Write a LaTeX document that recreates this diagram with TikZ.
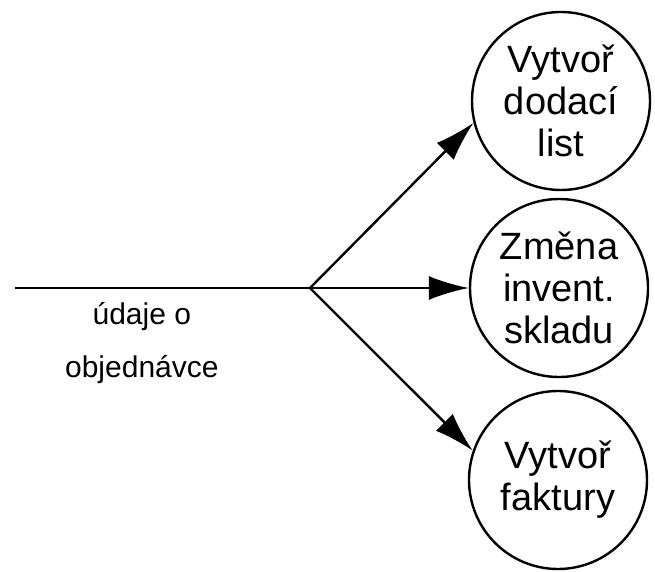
\documentclass[tikz,border=0pt]{standalone}
\usepackage{fontspec}
\setmainfont{Liberation Sans}
\usetikzlibrary{arrows.meta}

\begin{document}
\begin{tikzpicture}[x=1pt, y=1pt, line width=2.4pt,
    proces/.style={circle, draw, minimum size=178pt, inner sep=0pt, align=center,
                   font=\fontsize{38}{42}\selectfont},
    tok/.style={-{Latex[length=40pt,width=24pt]}}]
    \useasboundingbox (0,0) rectangle (655,-572); % okraje
    \coordinate (vstup) at (15,-288); % zacatek toku
    \coordinate (uzel) at (310,-288); % rozvetveni

    \node[proces] (dodaci) at (561,-101) {Vytvoř\\dodací\\list};
    \node[proces] (sklad) at (559,-288) {Změna\\invent.\\skladu};
    \node[proces] (faktura) at (558,-480) {Vytvoř\\faktury};

    \draw (vstup) -- (uzel) node[pos=0.43, below=10pt, align=center,
        font=\fontsize{30}{53}\selectfont] {údaje o\\objednávce}; % popis toku
    \draw[tok] (uzel) -- (dodaci.194);
    \draw[tok] (uzel) -- (sklad.180);
    \draw[tok] (uzel) -- (faktura.161);
\end{tikzpicture}
\end{document}
